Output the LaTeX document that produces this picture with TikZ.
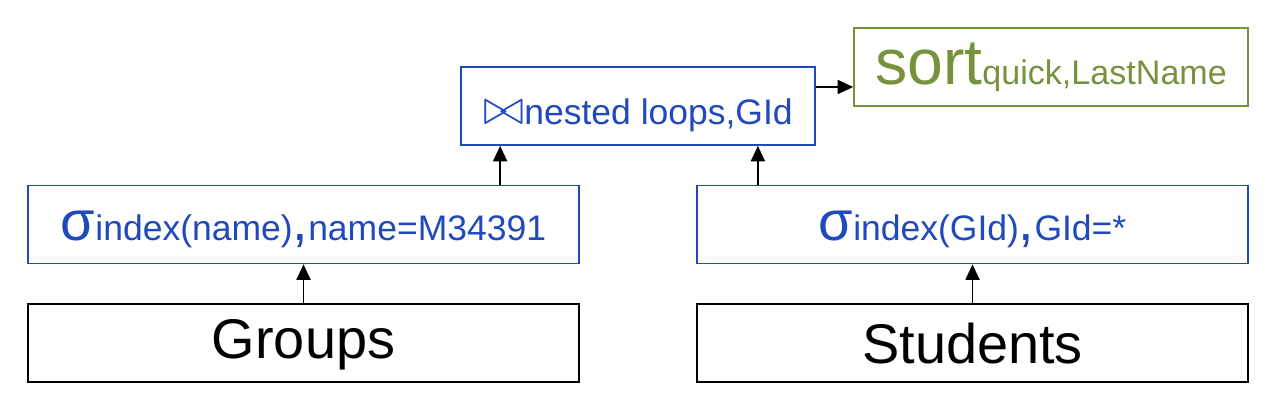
\documentclass[tikz,border=0pt]{standalone}
\usepackage{fontspec}
\setmainfont{Liberation Sans}
\usetikzlibrary{arrows.meta}
\definecolor{opblue}{RGB}{31,73,189}
\definecolor{opgreen}{RGB}{118,146,60}
\newcommand{\bigsz}{\fontsize{15.9}{18}\selectfont}
\newcommand{\smallsz}{\fontsize{10.1}{12}\selectfont}

\begin{document}
\begin{tikzpicture}[
    box/.style={draw, line width=0.5pt, inner sep=0pt, minimum height=0.78cm},
    arr/.style={-{Triangle[length=4.4pt,width=4pt]}, line width=0.5pt}
  ]
  \useasboundingbox (0,0) rectangle (12.77,-4.11);

  % relations
  \node[box, minimum width=5.51cm, font=\bigsz, text height=0.42cm] (groups) at (3.035,-3.43) {Groups};
  \node[box, minimum width=5.51cm, font=\bigsz, text height=0.42cm] (students) at (9.725,-3.43) {Students};

  % selections
  \node[box, opblue, minimum width=5.51cm, font=\smallsz, text height=0.4cm] (selg) at (3.035,-2.245)
    {{\bigsz σ}index(name){\bigsz ,}name=M34391};
  \node[box, opblue, minimum width=5.51cm, font=\smallsz, text height=0.4cm] (sels) at (9.725,-2.245)
    {{\bigsz σ}index(GId){\bigsz ,}GId=*};

  % join and sort
  \node[box, opblue, minimum width=3.54cm, font=\smallsz, text height=0.45cm] (join) at (6.38,-1.06)
    {{\fontsize{14}{14}\selectfont$\bowtie$}nested loops,GId};
  \node[box, opgreen, minimum width=3.94cm, font=\fontsize{9.7}{12}\selectfont] (sort) at (10.51,-0.67)
    {{\fontsize{18.3}{20}\selectfont sort}quick,LastName};

  \coordinate (jl) at ([xshift=0.4cm]join.south west);
  \coordinate (jr) at ([xshift=-0.58cm]join.south east);
  \coordinate (jo) at ([yshift=0.19cm]join.east);

  \draw[arr] (groups.north) -- (selg.south);
  \draw[arr] (students.north) -- (sels.south);
  \draw[arr] (selg.north -| jl) -- (jl);
  \draw[arr] (sels.north -| jr) -- (jr);
  \draw[arr] (jo) -- (jo -| sort.west);
\end{tikzpicture}
\end{document}
